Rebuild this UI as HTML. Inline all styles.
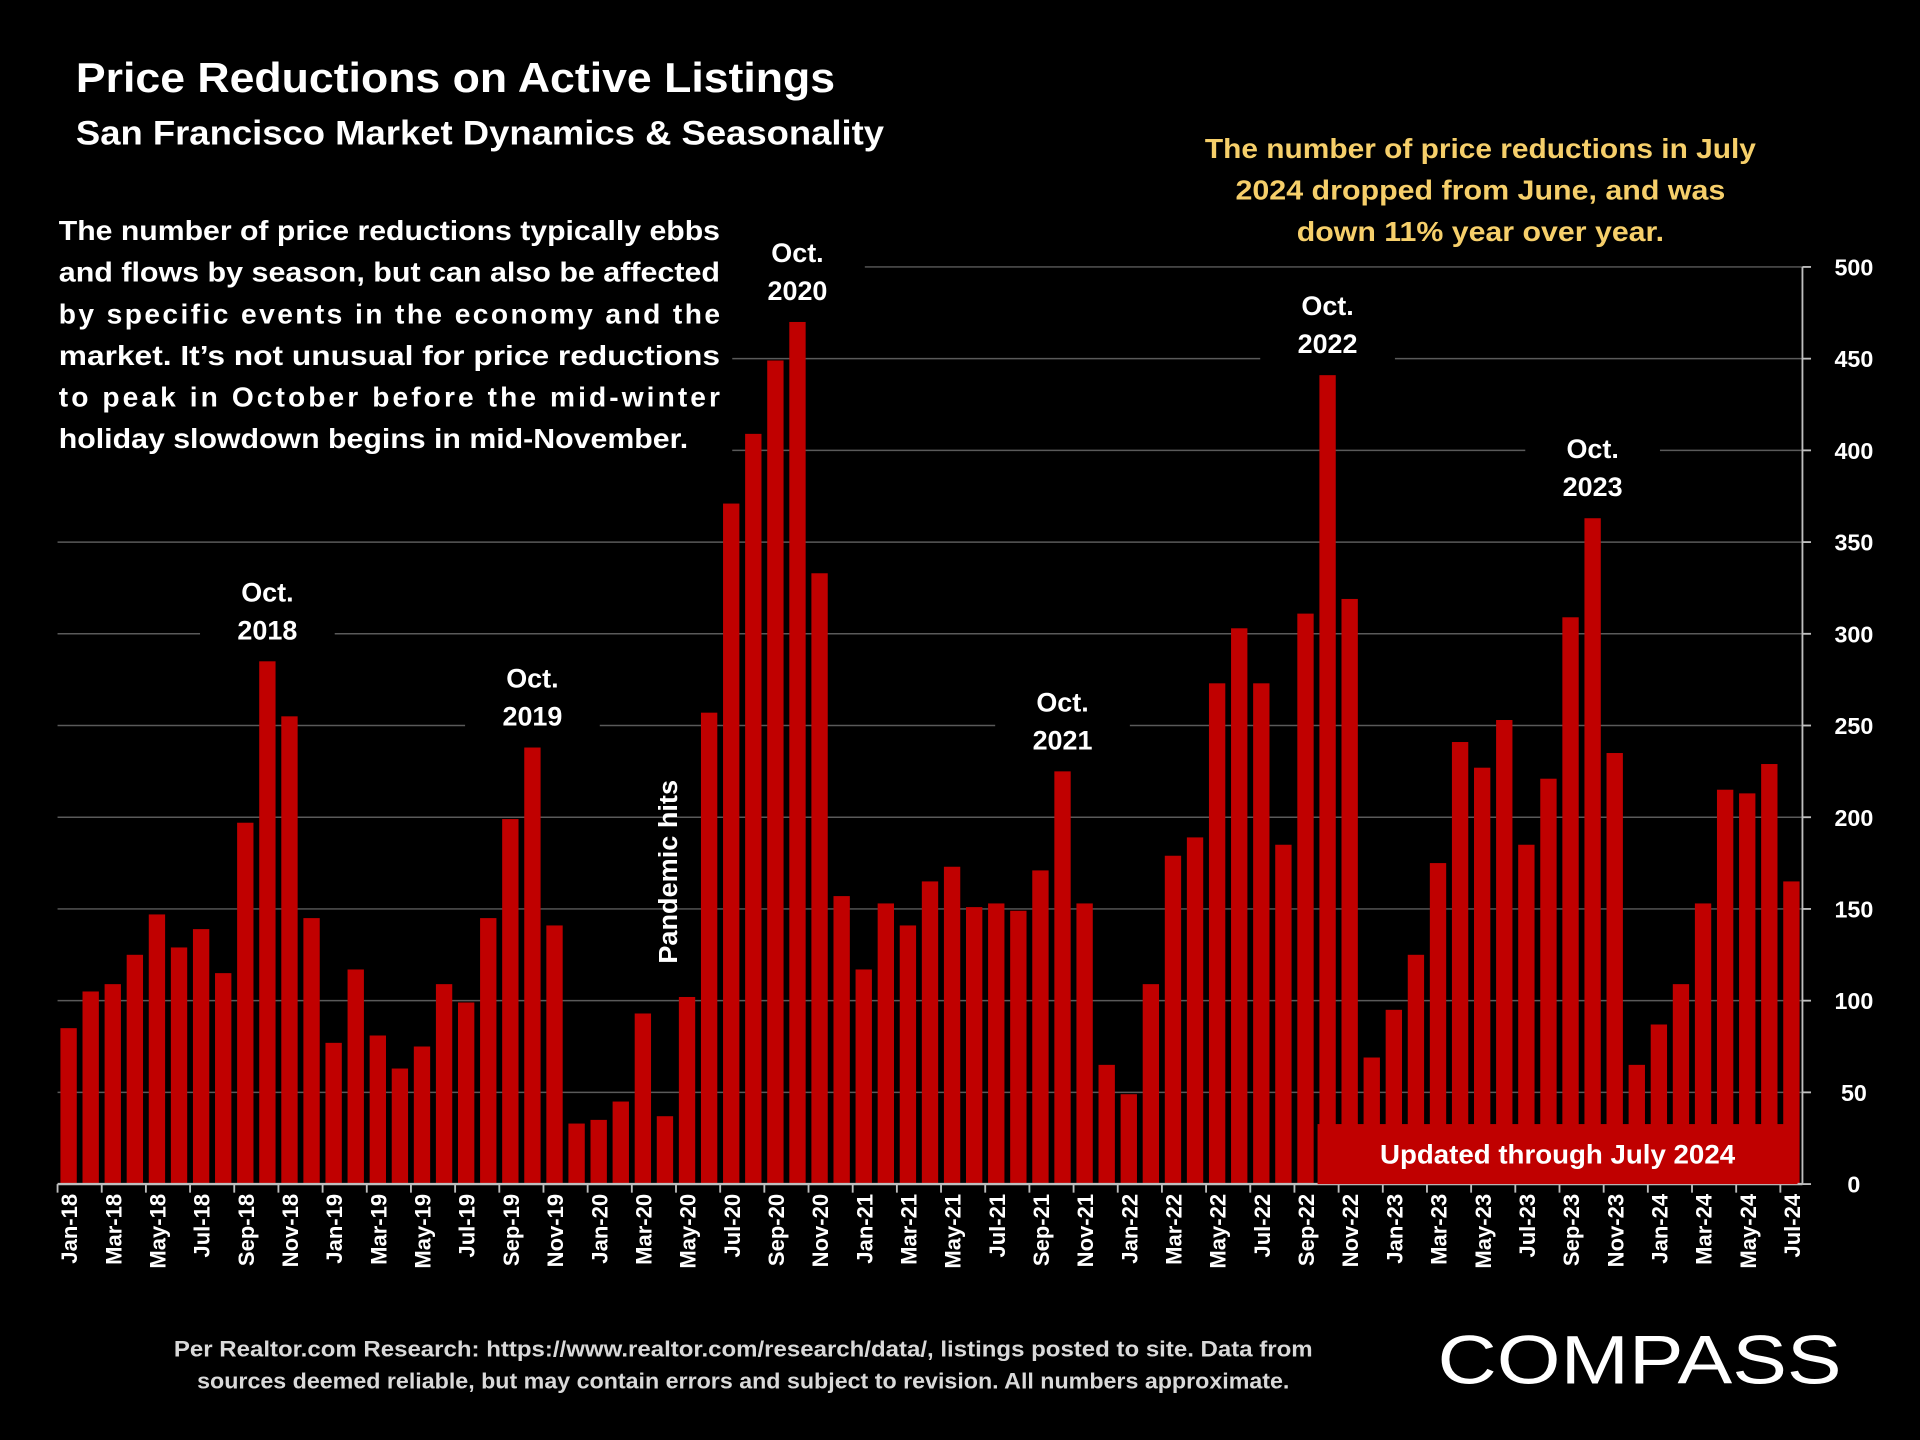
<!DOCTYPE html>
<html><head><meta charset="utf-8">
<style>
html,body{margin:0;padding:0;background:#000;}
svg{display:block;font-family:"Liberation Sans",sans-serif;font-weight:bold;}
</style></head>
<body>
<svg id="chart" width="1920" height="1440" viewBox="0 0 1568 1176" xmlns="http://www.w3.org/2000/svg">
<rect width="1568" height="1176" fill="#000"/>
<g id="grid"></g>
<rect x="40" y="168" width="558" height="210" fill="#000"/>
<g id="annoBg"></g>
<g id="bars"></g>
<g id="axes"></g>

<text x="62" y="75" fill="#fff" font-size="34" textLength="620" lengthAdjust="spacingAndGlyphs">Price Reductions on Active Listings</text>
<text x="62" y="118" fill="#fff" font-size="28" textLength="660" lengthAdjust="spacingAndGlyphs">San Francisco Market Dynamics &amp; Seasonality</text>

<g fill="#fff" font-size="23">
<text x="48" y="196" textLength="540" lengthAdjust="spacingAndGlyphs">The number of price reductions typically ebbs</text>
<text x="48" y="230" textLength="540" lengthAdjust="spacingAndGlyphs">and flows by season, but can also be affected</text>
<text x="48" y="264" textLength="540" lengthAdjust="spacing">by specific events in the economy and the</text>
<text x="48" y="298" textLength="540" lengthAdjust="spacingAndGlyphs">market. It’s not unusual for price reductions</text>
<text x="48" y="332" textLength="540" lengthAdjust="spacing">to peak in October before the mid-winter</text>
<text x="48" y="366" textLength="514" lengthAdjust="spacingAndGlyphs">holiday slowdown begins in mid-November.</text>
</g>

<g fill="#f6cf6a" font-size="23" text-anchor="middle">
<text x="1209" y="129" textLength="450" lengthAdjust="spacingAndGlyphs">The number of price reductions in July</text>
<text x="1209" y="163" textLength="400" lengthAdjust="spacingAndGlyphs">2024 dropped from June, and was</text>
<text x="1209" y="197" textLength="300" lengthAdjust="spacingAndGlyphs">down 11% year over year.</text>
</g>

<text transform="translate(553,712) rotate(-90)" fill="#fff" font-size="21" text-anchor="middle" textLength="150" lengthAdjust="spacingAndGlyphs">Pandemic hits</text>

<g id="annos" fill="#fff" font-size="22" text-anchor="middle"></g>

<rect x="1076" y="918" width="392" height="49" fill="#c00000"/>
<text x="1272" y="950" fill="#fff" font-size="22" text-anchor="middle" textLength="290" lengthAdjust="spacingAndGlyphs">Updated through July 2024</text>

<g fill="#d9d9d9" font-size="18" text-anchor="middle">
<text x="607" y="1108" textLength="930" lengthAdjust="spacingAndGlyphs">Per Realtor.com Research:  https://www.realtor.com/research/data/, listings posted to site. Data from</text>
<text x="607" y="1134" textLength="892" lengthAdjust="spacingAndGlyphs">sources deemed reliable, but may contain errors and subject to revision. All numbers approximate.</text>
</g>

<text x="1174" y="1130" fill="#fff" font-size="56" font-weight="normal" textLength="330" lengthAdjust="spacingAndGlyphs">COMPASS</text>
</svg>
<script>
const categories = [];
const months = ["Jan","Feb","Mar","Apr","May","Jun","Jul","Aug","Sep","Oct","Nov","Dec"];
const values = [
85,105,109,125,147,129,139,115,197,285,255,145,
77,117,81,63,75,109,99,145,199,238,141,33,
35,45,93,37,102,257,371,409,449,470,333,157,
117,153,141,165,173,151,153,149,171,225,153,65,
49,109,179,189,273,303,273,185,311,441,319,69,
95,125,175,241,227,253,185,221,309,363,235,65,
87,109,153,215,213,229,165
];
const yTicks = [0,50,100,150,200,250,300,350,400,450,500];
const annotations = [["Oct-18","Oct.","2018"],["Oct-19","Oct.","2019"],["Oct-20","Oct.","2020"],["Oct-21","Oct.","2021"],["Oct-22","Oct.","2022"],["Oct-23","Oct.","2023"]];
for (let y=2018;y<=2024;y++) for (let m=0;m<12;m++) { if (categories.length<values.length) categories.push(months[m]+"-"+String(y).slice(2)); }

const NS="http://www.w3.org/2000/svg";
const X0=47, X1=1472, Y0=967, Y1=218, YMAX=500;
const step=(X1-X0)/categories.length;
const xs=i=>X0+step*i;
const ys=v=>Y0-(v/YMAX)*(Y0-Y1);
function mk(tag,attrs,parent){const e=document.createElementNS(NS,tag);for(const k in attrs)e.setAttribute(k,attrs[k]);parent.appendChild(e);return e;}

const grid=document.getElementById('grid'), bars=document.getElementById('bars'), axes=document.getElementById('axes');
yTicks.forEach(t=>{
  if(t>0){const l=mk('line',{x1:X0,x2:X1,y1:ys(t),y2:ys(t),stroke:'#5a5a5a','stroke-width':1.2},grid);
  
  }
  const tk=mk('line',{x1:X1,x2:X1+7,y1:ys(t),y2:ys(t),stroke:'#bfbfbf','stroke-width':1.5},axes);
  
  
  const tx=mk('text',{x:X1+42,y:ys(t)+7,fill:'#fff','font-size':19,'text-anchor':'middle'},axes);
  tx.textContent=t;
  
  
});
values.forEach((v,i)=>{
  const bw=step*0.74;
  const r=mk('rect',{x:xs(i)+(step-bw)/2,y:ys(v),width:bw,height:Y0-ys(v),fill:'#c00000'},bars);
  
  
});
const ax=mk('line',{x1:X0,x2:X1,y1:Y0,y2:Y0,stroke:'#bfbfbf','stroke-width':2},axes);


const ay=mk('line',{x1:X1,x2:X1,y1:Y1,y2:Y0,stroke:'#bfbfbf','stroke-width':1.5},axes);


for(let i=0;i<=categories.length;i+=2){
  const t=mk('line',{x1:xs(i),x2:xs(i),y1:Y0,y2:Y0+7,stroke:'#bfbfbf','stroke-width':1.5},axes);
  
  
}
categories.forEach((c,i)=>{
  if(i%2) return;
  const cx=xs(i)+step/2+7;
  const t=mk('text',{transform:`translate(${cx},975) rotate(-90)`,fill:'#fff','font-size':18,'text-anchor':'end'},axes);
  t.textContent=c;
  
  
});
const annos=document.getElementById('annos'), annoBg=document.getElementById('annoBg');
annotations.forEach(a=>{
  const i=categories.indexOf(a[0]); const v=values[i];
  const cx=xs(i)+step/2, top=ys(v)-49;
  const bg=mk('rect',{x:cx-55,y:top-24,width:110,height:68,fill:'#000'},annoBg);
  
  
  const t1=mk('text',{x:cx,y:top},annos); t1.textContent=a[1];
  
  
  const t2=mk('text',{x:cx,y:top+31},annos); t2.textContent=a[2];
  
  
});
</script>
</body></html>
